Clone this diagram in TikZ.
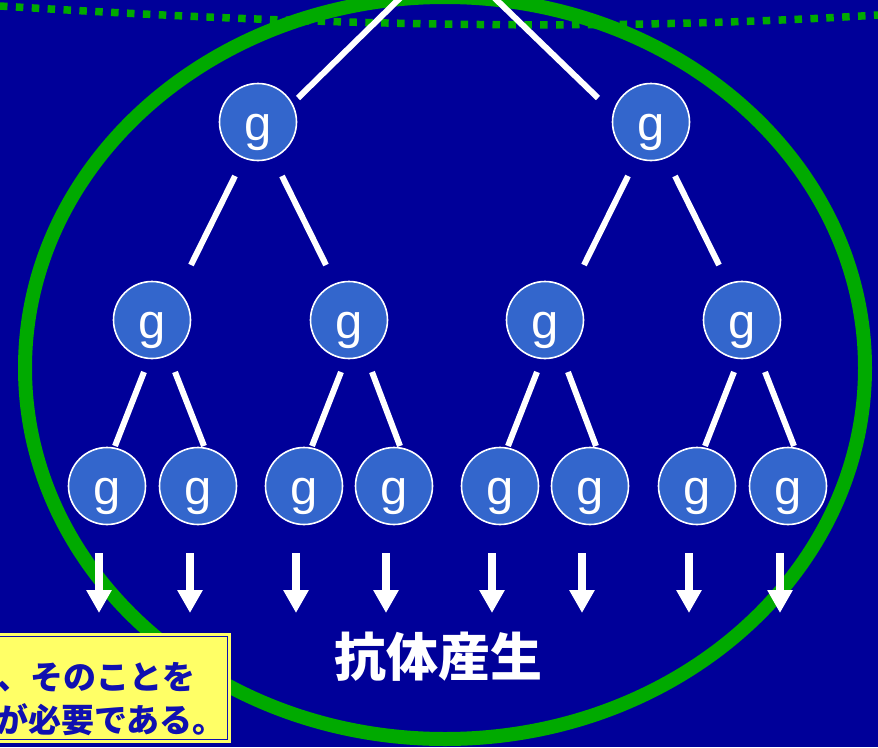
\documentclass[tikz,border=0pt]{standalone}
\usepackage{fontspec}
\setmainfont{Liberation Sans}
\newfontfamily\cjk{Noto Sans CJK JP}
\usetikzlibrary{arrows.meta}
\definecolor{bg}{RGB}{0,0,153}
\definecolor{gr}{RGB}{0,170,0}
\definecolor{nb}{RGB}{51,102,204}
\definecolor{yl}{RGB}{255,255,102}
\definecolor{tb}{RGB}{16,16,176}
\begin{document}
\begin{tikzpicture}[x=1pt,y=-1pt,
  gnode/.style={circle, minimum size=77pt, inner sep=0pt, fill=nb, draw=white,
    line width=1.6pt, text=white, font=\fontsize{49}{50}\selectfont,
    text height=36pt, text depth=0pt},
  conn/.style={draw=white, line width=6pt},
  downarrow/.style={draw=white, line width=8pt, -{Triangle[width=24pt,length=23pt]}},
  boxtext/.style={anchor=base west, inner sep=0pt, text=tb,
    font=\cjk\bfseries\fontsize{33}{36}\selectfont}]
\useasboundingbox (0,0) rectangle (878,747);
\clip (0,0) rectangle (878,747);
\fill[bg] (0,0) rectangle (878,747);
% dotted curve
\draw[gr, line width=7.5pt, dash pattern=on 7.5pt off 8.4pt]
  (0,6) .. controls (293,24) and (586,33) .. (878,15);
% big ellipse
\draw[gr, line width=14pt] (445,368) ellipse [x radius=420, y radius=371];
% nodes
\node[gnode] (a1) at (258,122) {g};
\node[gnode] (a2) at (651,122) {g};
\node[gnode] (b1) at (152,320) {g};
\node[gnode] (b2) at (349,320) {g};
\node[gnode] (b3) at (545,320) {g};
\node[gnode] (b4) at (742,320) {g};
\foreach \n/\x in {1/107,2/198,3/304,4/394,5/500,6/590,7/697,8/788}
  \node[gnode] (c\n) at (\x,486) {g};
% top connectors
\coordinate (apex) at (447,-48);
\draw[conn] ([shift={(40,-24)}]a1.center) -- (apex);
\draw[conn] ([shift={(-53,-24)}]a2.center) -- (apex);
% level 1 -> 2
\foreach \p/\l/\r in {a1/b1/b2, a2/b3/b4}{
  \draw[conn] ([shift={(-23,54)}]\p.center) -- ([shift={(39,-55)}]\l.center);
  \draw[conn] ([shift={(24,54)}]\p.center) -- ([shift={(-23,-55)}]\r.center);
}
% level 2 -> 3
\foreach \p/\l/\r in {b1/c1/c2, b2/c3/c4, b3/c5/c6, b4/c7/c8}{
  \draw[conn] ([shift={(-8,52)}]\p.center) -- ([shift={(8,-40)}]\l.center);
  \draw[conn] ([shift={(23,52)}]\p.center) -- ([shift={(6,-40)}]\r.center);
}
% arrows
\foreach \n in {1,...,8}
  \draw[downarrow] ([shift={(-8,67)}]c\n.center) -- ([shift={(-8,127)}]c\n.center);
% label
\node[anchor=base, inner sep=0pt, text=white, font=\cjk\bfseries\fontsize{52}{56}\selectfont]
  (ab) at (438,676) {抗体産生};
% yellow box
\fill[yl] (-20,633) rectangle (231,743);
\draw[tb, line width=1.5pt] (-20,636.5) rectangle (227.5,739.5);
\node[boxtext] (t1) at (-36,689) {は、そのことを};
\node[boxtext] (t2) at (-5,732) {が必要である。};
\end{tikzpicture}
\end{document}
